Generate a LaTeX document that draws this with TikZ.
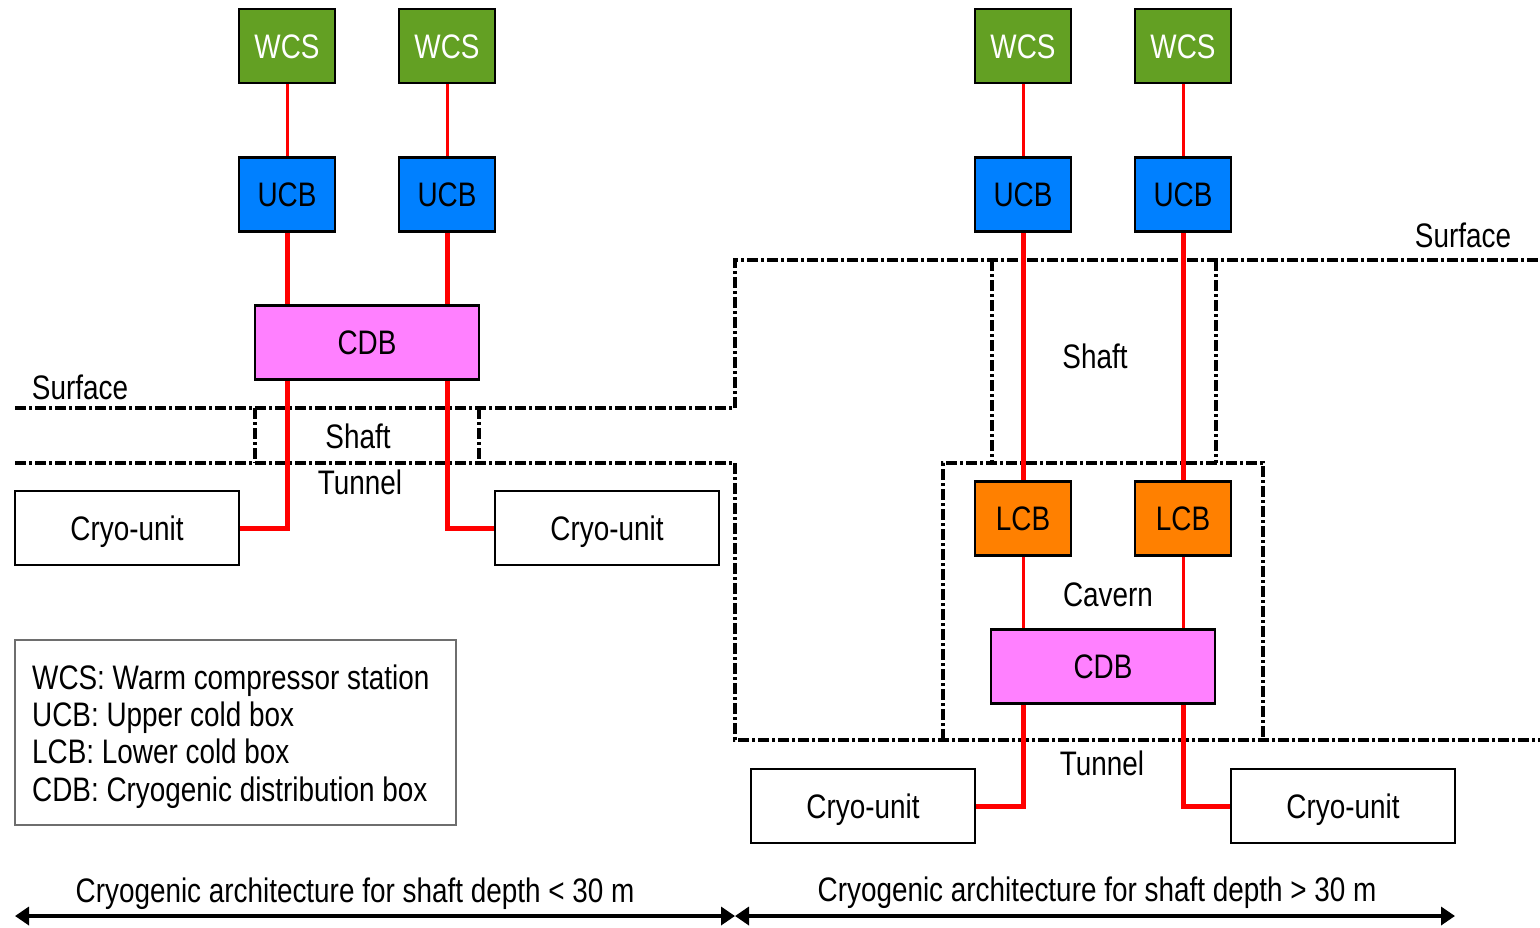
\documentclass[tikz,border=0pt]{standalone}
\usepackage{fontspec}
\setmainfont{Liberation Sans}[FakeStretch=0.82]
\usetikzlibrary{arrows.meta}
\definecolor{wcsgreen}{RGB}{99,160,35}
\definecolor{ucbblue}{RGB}{0,128,255}
\definecolor{cdbpink}{RGB}{255,128,255}
\definecolor{lcborange}{RGB}{255,128,0}
\definecolor{legendgray}{RGB}{110,110,110}
\tikzset{
  txt/.style={font=\fontsize{34}{38}\selectfont, text height=24.3pt, text depth=0pt},
  box/.style={draw=black, line width=2.6pt, inner sep=0pt, txt},
  wcsbox/.style={box, fill=wcsgreen, text=white, minimum width=96pt, minimum height=74pt},
  ucbbox/.style={box, fill=ucbblue, minimum width=96pt, minimum height=74pt},
  lcbbox/.style={box, fill=lcborange, minimum width=96pt, minimum height=74pt},
  cdbbox/.style={box, fill=cdbpink, minimum width=224pt, minimum height=74pt},
  cryobox/.style={box, fill=white, minimum width=224pt, minimum height=74pt},
  thinpipe/.style={red, line width=3pt},
  thickpipe/.style={red, line width=5pt},
  zone/.style={black, line width=3.2pt, dash pattern=on 11pt off 3pt on 3pt off 3pt},
  lbl/.style={inner sep=0pt, txt},
  dimarrow/.style={line width=3.5pt, {Triangle[length=14pt,width=18pt]}-{Triangle[length=14pt,width=18pt]}}
}
\begin{document}
\begin{tikzpicture}[x=1pt,y=-1pt]
\useasboundingbox (0,0) rectangle (1540,927);

% zone lines
\draw[zone] (15,408) -- (735,408) -- (735,260) -- (1540,260);
\draw[zone] (15,463) -- (735,463) -- (735,740) -- (1540,740);
\draw[zone] (255,408) -- (255,463);
\draw[zone] (479,408) -- (479,463);
\draw[zone] (992,260) -- (992,463);
\draw[zone] (1216,260) -- (1216,463);
\draw[zone] (943,740) -- (943,463) -- (1263,463) -- (1263,740);

% left architecture
\node[wcsbox] (w1) at (287,46) {WCS};
\node[wcsbox] (w2) at (447,46) {WCS};
\node[ucbbox] (u1) at (287,194.5) {UCB};
\node[ucbbox] (u2) at (447,194.5) {UCB};
\node[cdbbox] (c1) at (367,342.5) {CDB};
\node[cryobox] (cr1) at (127,528) {Cryo-unit};
\node[cryobox] (cr2) at (607,528) {Cryo-unit};

% right architecture
\node[wcsbox] (w3) at (1023,46) {WCS};
\node[wcsbox] (w4) at (1183,46) {WCS};
\node[ucbbox] (u3) at (1023,194.5) {UCB};
\node[ucbbox] (u4) at (1183,194.5) {UCB};
\node[lcbbox] (l3) at (1023,518.5) {LCB};
\node[lcbbox] (l4) at (1183,518.5) {LCB};
\node[cdbbox] (c2) at (1103,666.5) {CDB};
\node[cryobox] (cr3) at (863,806) {Cryo-unit};
\node[cryobox] (cr4) at (1343,806) {Cryo-unit};

% pipes
\draw[thinpipe] (w1.south) -- (u1.north);
\draw[thinpipe] (w2.south) -- (u2.north);
\draw[thickpipe] (u1.south) -- (u1.south |- c1.north);
\draw[thickpipe] (u2.south) -- (u2.south |- c1.north);
\draw[thickpipe] (u1.south |- c1.south) |- (cr1.east);
\draw[thickpipe] (u2.south |- c1.south) |- (cr2.west);

\draw[thinpipe] (w3.south) -- (u3.north);
\draw[thinpipe] (w4.south) -- (u4.north);
\draw[thickpipe] (u3.south) -- (l3.north);
\draw[thickpipe] (u4.south) -- (l4.north);
\draw[thinpipe] (l3.south) -- (l3.south |- c2.north);
\draw[thinpipe] (l4.south) -- (l4.south |- c2.north);
\draw[thickpipe] (l3.south |- c2.south) |- (cr3.east);
\draw[thickpipe] (l4.south |- c2.south) |- (cr4.west);

% zone labels
\node[lbl] (surfL) at (80,387) {Surface};
\node[lbl] (shaftL) at (358,436) {Shaft};
\node[lbl] (tunnelL) at (360,482) {Tunnel};
\node[lbl] (surfR) at (1463,235) {Surface};
\node[lbl] (shaftR) at (1095,356) {Shaft};
\node[lbl] (cavern) at (1108,594) {Cavern};
\node[lbl] (tunnelR) at (1102,763) {Tunnel};

% legend
\node[draw=legendgray, line width=1.2pt, minimum width=441pt, minimum height=185pt, inner sep=0pt] (legbox) at (235.5,732.5) {};
\node[lbl, anchor=west] (leg1) at (32,677) {WCS: Warm compressor station};
\node[lbl, anchor=west] (leg2) at (32,714) {UCB: Upper cold box};
\node[lbl, anchor=west] (leg3) at (32,751) {LCB: Lower cold box};
\node[lbl, anchor=west] (leg4) at (32,789) {CDB: Cryogenic distribution box};

% bottom
\coordinate (a1) at (15,916);
\coordinate (a2) at (735,916);
\coordinate (a3) at (1455,916);
\draw[dimarrow] (a1) -- (a2);
\draw[dimarrow] (a2) -- (a3);
\node[lbl] (capL) at (355,890) {Cryogenic architecture for shaft depth < 30 m};
\node[lbl] (capR) at (1097,889) {Cryogenic architecture for shaft depth > 30 m};
\end{tikzpicture}
\end{document}
